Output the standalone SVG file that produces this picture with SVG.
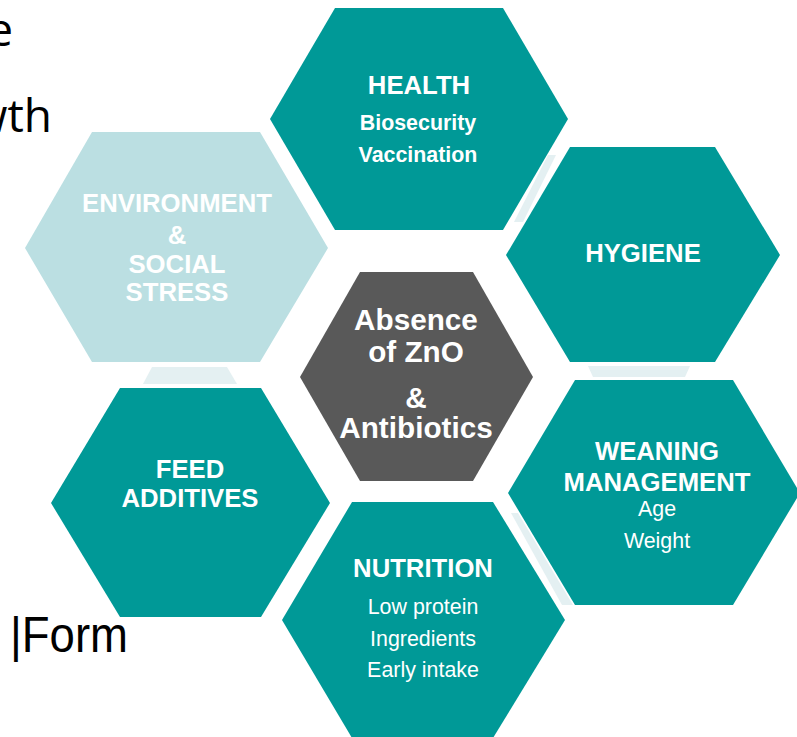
<svg xmlns="http://www.w3.org/2000/svg" width="797" height="737" viewBox="0 0 797 737">
<style>
.teal{fill:#009997}
.light{fill:#bbdfe2}
.dark{fill:#595959}
.conn{fill:#e4f0f2}
.t{font-family:"Liberation Sans",Arial,sans-serif;fill:#fff;text-anchor:middle}
.b{font-weight:bold}
.h{font-size:25.7px}
.s{font-size:21.4px}
.c{font-size:29.7px}
.side{font-family:"Open Sans","Noto Sans",sans-serif;fill:#000}
</style>
<rect width="797" height="737" fill="#fff"/>
<g id="side-text">
<text class="side" x="13" y="46" font-size="46" text-anchor="end">e</text>
<text class="side" x="52" y="132" font-size="46" text-anchor="end">wth</text>
<text x="10" y="652" font-family="Liberation Sans, Arial, sans-serif" font-size="50" fill="#000" textLength="118" lengthAdjust="spacingAndGlyphs">|Form</text>
</g>
<g id="connectors">
<polygon class="conn" points="548,155 556,155 523,222 514,222"/>
<polygon class="conn" points="152,367 227,367 237,384 143,384"/>
<polygon class="conn" points="588,366 690,366 685,377 593,377"/>
<polygon class="conn" points="511,513 518,513 573,605 562,605"/>
</g>
<g id="health">
<polygon class="teal" points="270,119 335,8 503,8 568,119 503,230 335,230"/>
<text class="t b h" x="419" y="94">HEALTH</text>
<text class="t b s" x="418" y="130">Biosecurity</text>
<text class="t b s" x="418" y="162">Vaccination</text>
</g>
<g id="hygiene">
<polygon class="teal" points="506,255 570,147 715,147 780,255 715,362 570,362"/>
<text class="t b h" x="643" y="262">HYGIENE</text>
</g>
<g id="environment">
<polygon class="light" points="25,248 92,132 260,132 328,248 260,362 92,362"/>
<text class="t b h" x="177" y="212">ENVIRONMENT</text>
<text class="t b h" x="177" y="244">&amp;</text>
<text class="t b h" x="177" y="273">SOCIAL</text>
<text class="t b h" x="177" y="301">STRESS</text>
</g>
<g id="center">
<polygon class="dark" points="300,377 360,272 473,272 533,377 473,481 360,481"/>
<text class="t b c" x="416" y="330">Absence</text>
<text class="t b c" x="416" y="362">of ZnO</text>
<text class="t b c" x="416" y="408">&amp;</text>
<text class="t b c" x="416" y="438">Antibiotics</text>
</g>
<g id="feed-additives">
<polygon class="teal" points="51,503 120,388 261,388 330,503 261,617 120,617"/>
<text class="t b h" x="190" y="478">FEED</text>
<text class="t b h" x="190" y="507">ADDITIVES</text>
</g>
<g id="nutrition">
<polygon class="teal" points="282,620 352,502 493,502 565,620 493,738 352,738"/>
<text class="t b h" x="423" y="577">NUTRITION</text>
<text class="t s" x="423" y="614">Low protein</text>
<text class="t s" x="423" y="646">Ingredients</text>
<text class="t s" x="423" y="677">Early intake</text>
</g>
<g id="weaning">
<polygon class="teal" points="508,493 575,380 733,380 800,493 733,605 575,605"/>
<text class="t b h" x="657" y="460">WEANING</text>
<text class="t b h" x="657" y="491">MANAGEMENT</text>
<text class="t s" x="657" y="516">Age</text>
<text class="t s" x="657" y="548">Weight</text>
</g>
</svg>
